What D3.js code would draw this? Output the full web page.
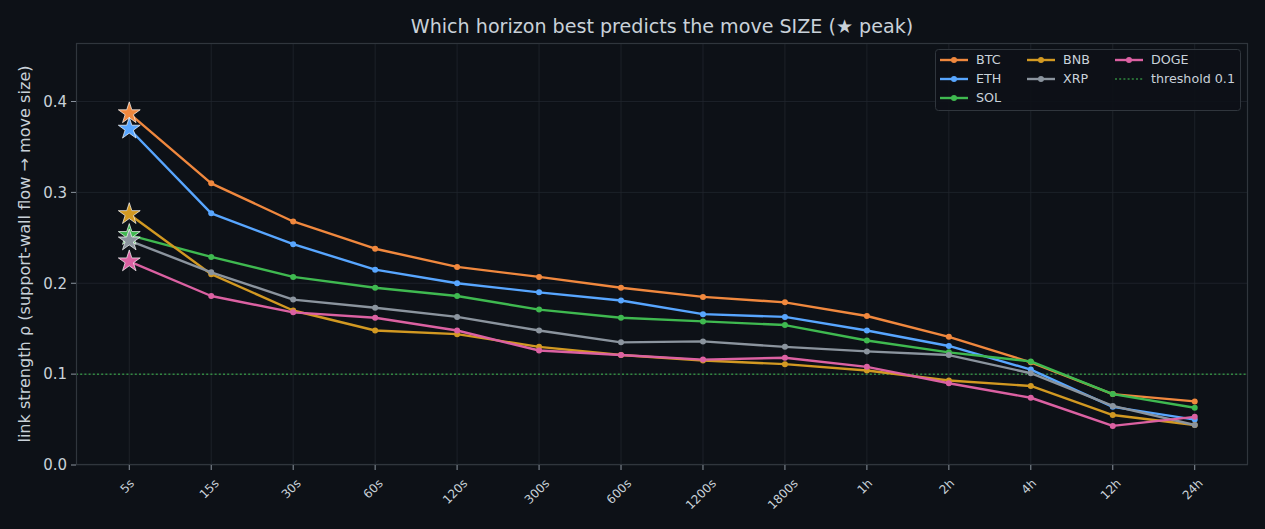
<!DOCTYPE html>
<html><head><meta charset="utf-8">
<script src="https://cdn.jsdelivr.net/npm/d3@7"></script>
<style>
html,body{margin:0;padding:0;background:#0d1117;}
svg{display:block;}
text{font-family:"DejaVu Sans",sans-serif;}
</style></head>
<body>
<svg id="chart" width="1265" height="529"></svg>
<script>
const horizons = ["5s","15s","30s","60s","120s","300s","600s","1200s","1800s","1h","2h","4h","12h","24h"];
const btc  = [0.387,0.310,0.268,0.238,0.218,0.207,0.195,0.185,0.179,0.164,0.141,0.113,0.078,0.070];
const eth  = [0.370,0.277,0.243,0.215,0.200,0.190,0.181,0.166,0.163,0.148,0.131,0.105,0.064,0.050];
const sol  = [0.253,0.229,0.207,0.195,0.186,0.171,0.162,0.158,0.154,0.137,0.124,0.114,0.078,0.063];
const bnb  = [0.276,0.210,0.170,0.148,0.144,0.130,0.121,0.115,0.111,0.104,0.093,0.087,0.055,0.044];
const xrp  = [0.247,0.212,0.182,0.173,0.163,0.148,0.135,0.136,0.130,0.125,0.121,0.101,0.065,0.044];
const doge = [0.224,0.186,0.168,0.162,0.148,0.126,0.121,0.116,0.118,0.108,0.090,0.074,0.043,0.053];
const seriesNames = ["BTC","ETH","SOL","BNB","XRP","DOGE"];
const seriesValues = [btc,eth,sol,bnb,xrp,doge];
const seriesColors = ["#f0883e","#58a6ff","#3fb950","#d29922","#8b949e","#db61a2"];
const yTicks = [0.0,0.1,0.2,0.3,0.4];
const threshold = 0.1;

const svg = d3.select("#chart");
const W = 1265, H = 529;
const m = {left:76, right:17, top:43, bottom:64};
const pw = W - m.left - m.right, ph = H - m.top - m.bottom;
const textColor = "#c9d1d9";

const n = horizons.length;
const x = d3.scaleLinear().domain([-0.65, n - 1 + 0.65]).range([m.left, m.left + pw]);
const yMax = d3.max(seriesValues, s => d3.max(s)) * 1.2;
const y = d3.scaleLinear().domain([0, yMax]).range([m.top + ph, m.top]);

svg.append("rect").attr("width",W).attr("height",H).attr("fill","#0d1117");
svg.append("rect").attr("x",m.left).attr("y",m.top).attr("width",pw).attr("height",ph).attr("fill","#0d1117");

// grid
const g = svg.append("g");
g.selectAll("line.vg").data(horizons).enter().append("line")
  .attr("x1",(d,i)=>x(i)).attr("x2",(d,i)=>x(i)).attr("y1",m.top).attr("y2",m.top+ph)
  .attr("stroke","#21262d").attr("stroke-width",0.8);
g.selectAll("line.hg").data(yTicks).enter().append("line")
  .attr("x1",m.left).attr("x2",m.left+pw).attr("y1",d=>y(d)).attr("y2",d=>y(d))
  .attr("stroke","#21262d").attr("stroke-width",0.8);

// threshold
svg.append("line").attr("x1",m.left).attr("x2",m.left+pw).attr("y1",y(threshold)).attr("y2",y(threshold))
  .attr("stroke","#3fb950").attr("stroke-opacity",0.7).attr("stroke-width",1.5).attr("stroke-dasharray","2,2.2");

// spines
svg.append("rect").attr("x",m.left+0.5).attr("y",m.top+0.5).attr("width",pw-1).attr("height",ph-1)
  .attr("fill","none").attr("stroke","#30363d").attr("stroke-width",1.2);

// y axis ticks
const ya = svg.append("g");
yTicks.forEach(t=>{
  ya.append("line").attr("x1",m.left-5).attr("x2",m.left).attr("y1",y(t)).attr("y2",y(t)).attr("stroke","#8b949e").attr("stroke-width",1);
  ya.append("text").attr("x",m.left-9).attr("y",y(t)).attr("dy","0.35em").attr("text-anchor","end")
    .attr("fill",textColor).attr("font-size","15px").text(t.toFixed(1));
});
// x axis ticks
const xa = svg.append("g");
horizons.forEach((h,i)=>{
  xa.append("line").attr("x1",x(i)).attr("x2",x(i)).attr("y1",m.top+ph).attr("y2",m.top+ph+5).attr("stroke","#8b949e").attr("stroke-width",1);
  const fh = 12;
  const t = xa.append("text").attr("text-anchor","middle").attr("dominant-baseline","central")
    .attr("fill",textColor).attr("font-size",fh+"px").text(h);
  const L = t.node().getComputedTextLength();
  const bh = (L + fh) * Math.SQRT1_2;
  t.attr("transform",`translate(${x(i)-2},${m.top+ph+12+bh/2}) rotate(-45)`);
});

// y label
svg.append("text").attr("transform",`translate(30,${m.top+ph/2}) rotate(-90)`).attr("text-anchor","middle")
  .attr("fill",textColor).attr("font-size","16.1px").text("link strength ρ (support-wall flow → move size)");
// title
svg.append("text").attr("x",m.left+pw/2).attr("y",33).attr("text-anchor","middle")
  .attr("fill",textColor).attr("font-size","19.1px").text("Which horizon best predicts the move SIZE (★ peak)");

function starPath(R){
  const r = R*0.381966;
  let p = [];
  for(let k=0;k<10;k++){
    const a = -Math.PI/2 + k*Math.PI/5;
    const rr = k%2===0 ? R : r;
    p.push([rr*Math.cos(a), rr*Math.sin(a)]);
  }
  return "M"+p.map(q=>q[0].toFixed(2)+","+q[1].toFixed(2)).join("L")+"Z";
}

const line = d3.line().x((d,i)=>x(i)).y(d=>y(d));
const plot = svg.append("g");
seriesValues.forEach((vals,si)=>{
  const c = seriesColors[si];
  plot.append("path").attr("d",line(vals)).attr("fill","none").attr("stroke",c).attr("stroke-width",2.4)
    .attr("stroke-linejoin","round").attr("stroke-linecap","round");
  plot.selectAll(null).data(vals).enter().append("circle")
    .attr("cx",(d,i)=>x(i)).attr("cy",d=>y(d)).attr("r",3).attr("fill",c);
});
const stars = svg.append("g");
seriesValues.forEach((vals,si)=>{
  const pi = d3.maxIndex(vals);
  stars.append("path").attr("d",starPath(11.5)).attr("transform",`translate(${x(pi)},${y(vals[pi])})`)
    .attr("fill",seriesColors[si]).attr("stroke","#ffffff").attr("stroke-opacity",0.85).attr("stroke-width",0.8)
    .attr("stroke-linejoin","miter");
});

// legend
const lg = svg.append("g");
lg.append("rect").attr("x",935.5).attr("y",49.5).attr("width",305).attr("height",61).attr("rx",3)
  .attr("fill","#0d1117").attr("fill-opacity",0.9).attr("stroke","#30363d").attr("stroke-width",1);
const legendItems = seriesNames.map((nm,i)=>({name:nm,color:seriesColors[i],type:"line"}));
legendItems.push({name:"threshold "+threshold,color:"#3fb950",type:"dot"});
const colX = [940,1027,1115];
const rowY = [60,79,98];
// column-major fill with column sizes 3,2,2
const colSizes = [3,2,2];
let idx = 0;
colSizes.forEach((cs,col)=>{
  for(let row=0;row<cs;row++,idx++){
    const it = legendItems[idx];
    const lx = colX[col], ly = rowY[row];
    if(it.type==="line"){
      lg.append("line").attr("x1",lx).attr("x2",lx+28).attr("y1",ly).attr("y2",ly).attr("stroke",it.color).attr("stroke-width",2.4);
      lg.append("circle").attr("cx",lx+14).attr("cy",ly).attr("r",3).attr("fill",it.color);
    } else {
      lg.append("line").attr("x1",lx).attr("x2",lx+28).attr("y1",ly).attr("y2",ly).attr("stroke",it.color)
        .attr("stroke-opacity",0.7).attr("stroke-width",1.5).attr("stroke-dasharray","2,2.2");
    }
    lg.append("text").attr("x",lx+36).attr("y",ly).attr("dy","0.35em").attr("fill",textColor)
      .attr("font-size","12.7px").text(it.name);
  }
});
</script>
</body></html>
